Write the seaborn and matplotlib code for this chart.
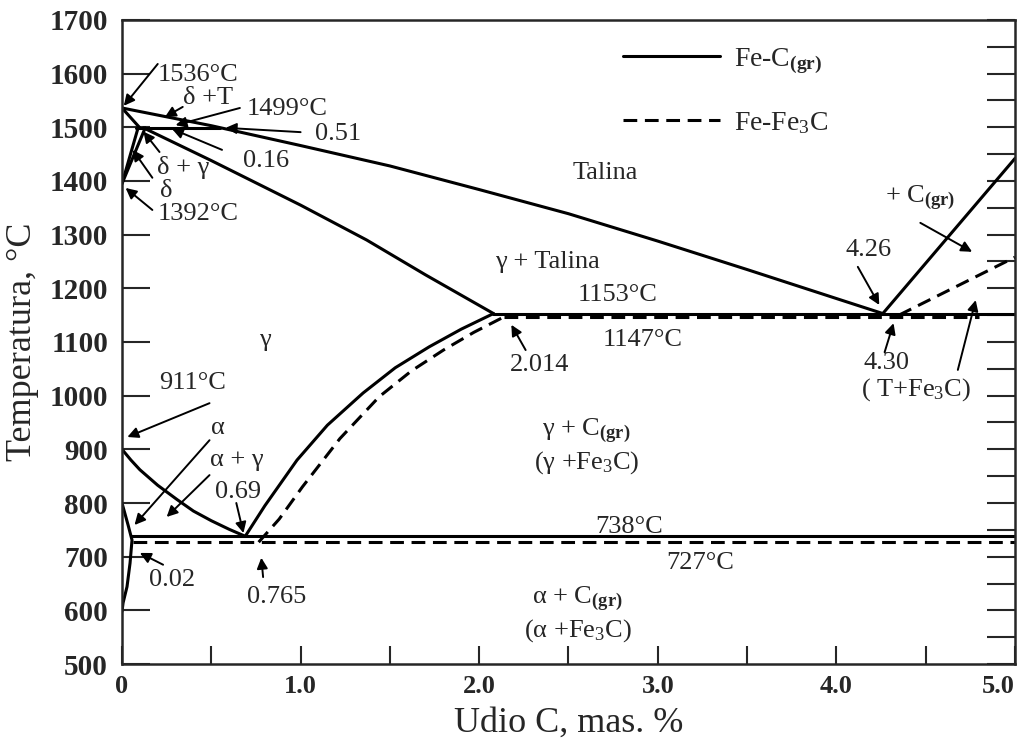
import numpy as np
import pandas as pd
import matplotlib
matplotlib.use('Agg')
import matplotlib.pyplot as plt
from matplotlib.ticker import MultipleLocator
import seaborn as sns

# phase boundaries: wt% C  vs  temperature (degC)
# stable system Fe-C(gr), solid lines
liq_x = [0, 0.5, 1.0, 1.5, 2.0, 2.5, 3.0, 3.5, 4.0, 4.26]
liq_t = [1536, 1503, 1466, 1428, 1384, 1339, 1288, 1235, 1181, 1153]
dsol_x = [0, 0.10]
dsol_t = [1536, 1499]
perit_x = [0.08, 0.55]
perit_t = [1499, 1499]
dgam1_x = [0, 0.09]
dgam1_t = [1395, 1499]
dgam2_x = [0, 0.13]
dgam2_t = [1395, 1499]
gsol_x = [0.12, 0.5, 1.0, 1.37, 1.7, 2.08]
gsol_t = [1499, 1438, 1355, 1290, 1225, 1153]
eut_gr_x = [2.08, 5.0]
eut_gr_t = [1153, 1153]
liq_gr_x = [4.26, 5.0]
liq_gr_t = [1153, 1442]
a3_x = [0, 0.05, 0.1, 0.2, 0.31, 0.4, 0.5, 0.6, 0.69]
a3_t = [900, 880, 862, 833, 806, 785, 767, 751, 738]
alpha_x = [0, 0.034, 0.056, 0.045, 0.028, 0.006, 0]
alpha_t = [800, 759, 731, 688, 644, 614, 598]
acm_gr_x = [0.69, 0.8, 0.98, 1.15, 1.35, 1.53, 1.72, 1.9, 2.08]
acm_gr_t = [738, 795, 880, 945, 1005, 1052, 1091, 1124, 1153]
eutd_gr_x = [0.05, 5.0]
eutd_gr_t = [738, 738]
# metastable system Fe-Fe3C, dashed lines
eut_cem_x = [2.14, 4.8]
eut_cem_t = [1147, 1147]
liq_cem_x = [4.35, 5.0]
liq_cem_t = [1150, 1258]
acm_cem_x = [0.765, 0.88, 1.01, 1.22, 1.44, 1.62, 1.80, 1.97, 2.14]
acm_cem_t = [727, 770, 830, 920, 998, 1046, 1085, 1118, 1147]
eutd_cem_x = [0.06, 5.0]
eutd_cem_t = [727, 727]

lab_gr = 'Fe-C$_{\\mathbf{(gr)}}$'
lab_cem = 'Fe-Fe$_3$C'

curves = [
    ('liq', lab_gr, liq_x, liq_t), ('dsol', lab_gr, dsol_x, dsol_t),
    ('perit', lab_gr, perit_x, perit_t), ('dgam1', lab_gr, dgam1_x, dgam1_t),
    ('dgam2', lab_gr, dgam2_x, dgam2_t), ('gsol', lab_gr, gsol_x, gsol_t),
    ('eut_gr', lab_gr, eut_gr_x, eut_gr_t), ('liq_gr', lab_gr, liq_gr_x, liq_gr_t),
    ('a3', lab_gr, a3_x, a3_t), ('alpha', lab_gr, alpha_x, alpha_t),
    ('acm_gr', lab_gr, acm_gr_x, acm_gr_t), ('eutd_gr', lab_gr, eutd_gr_x, eutd_gr_t),
    ('eut_cem', lab_cem, eut_cem_x, eut_cem_t), ('liq_cem', lab_cem, liq_cem_x, liq_cem_t),
    ('acm_cem', lab_cem, acm_cem_x, acm_cem_t), ('eutd_cem', lab_cem, eutd_cem_x, eutd_cem_t),
]
rows = []
for name, system, xs, ts in curves:
    for x, t in zip(xs, ts):
        rows.append({'curve': name, 'system': system, 'C': x, 'T': t})
df = pd.DataFrame(rows)

sns.set_style('ticks')
plt.rcParams['font.family'] = ['Liberation Serif', 'DejaVu Serif']
plt.rcParams['mathtext.fontset'] = 'custom'
plt.rcParams['mathtext.rm'] = 'Liberation Serif'
plt.rcParams['mathtext.it'] = 'Liberation Serif:italic'
plt.rcParams['mathtext.bf'] = 'Liberation Serif:bold'

fig = plt.figure(figsize=(10.27, 7.45), dpi=100)
ax = fig.add_axes([0.1188, 0.1087, 0.8695, 0.8645])

sns.lineplot(data=df, x='C', y='T', units='curve', style='system', estimator=None,
             sort=False, color='k', lw=2.2, ax=ax,
             style_order=[lab_gr, lab_cem],
             dashes={lab_gr: '', lab_cem: (4.5, 2.5)})

ax.set_xlim(0, 5)
ax.set_ylim(500, 1700)

# legend top right, no frame
h, l = ax.get_legend_handles_labels()
ax.legend(h, l, loc='upper left', bbox_to_anchor=(0.561, 0.96), frameon=False,
          fontsize=20, handlelength=3.5, handletextpad=0.5, labelspacing=1.25,
          borderpad=0, borderaxespad=0)

# text labels (layout only)
fs = 19
labels = [
    ('1536°C', 0.2, 1598, 'left'), ('δ +T', 0.34, 1555, 'left'),
    ('1499°C', 0.70, 1534, 'left'), ('0.51', 1.08, 1487, 'left'),
    ('0.16', 0.68, 1437, 'left'), ('δ + γ', 0.195, 1425, 'left'),
    ('δ', 0.21, 1382, 'left'), ('1392°C', 0.2, 1338, 'left'),
    ('Talina', 2.52, 1415, 'left'), ('+ C$_{\\mathbf{(gr)}}$', 4.27, 1368, 'left'),
    ('4.26', 4.05, 1271, 'left'), ('γ + Talina', 2.09, 1249, 'left'),
    ('1153°C', 2.55, 1188, 'left'), ('1147°C', 2.69, 1104, 'left'),
    ('2.014', 2.17, 1057, 'left'), ('γ', 0.80, 1104, 'center'),
    ('4.30', 4.15, 1061, 'left'), ('( T+Fe$_3$C)', 4.14, 1011, 'left'),
    ('911°C', 0.21, 1024, 'left'), ('α', 0.50, 940, 'left'),
    ('α + γ', 0.49, 880, 'left'), ('0.69', 0.52, 821, 'left'),
    ('0.02', 0.15, 657, 'left'), ('0.765', 0.70, 625, 'left'),
    ('γ + C$_{\\mathbf{(gr)}}$', 2.6, 934, 'center'), ('(γ +Fe$_3$C)', 2.6, 875, 'center'),
    ('738°C', 2.65, 755, 'left'), ('727°C', 3.05, 688, 'left'),
    ('α + C$_{\\mathbf{(gr)}}$', 2.55, 622, 'center'), ('(α +Fe$_3$C)', 2.55, 563, 'center'),
]
for txt, x, y, ha in labels:
    ax.text(x, y, txt, fontsize=fs, ha=ha, va='center')

# arrows: (tail, head)
arrows = [
    ((0.20, 1618), (0.01, 1540)), ((0.34, 1538), (0.24, 1519)),
    ((0.66, 1536), (0.30, 1504)), ((1.00, 1491), (0.58, 1499)),
    ((0.56, 1458), (0.28, 1497)), ((0.21, 1454), (0.12, 1492)),
    ((0.17, 1406), (0.06, 1458)), ((0.17, 1346), (0.02, 1387)),
    ((0.49, 986), (0.03, 923)), ((0.49, 917), (0.07, 759)),
    ((0.49, 852), (0.25, 774)), ((0.64, 800), (0.68, 744)),
    ((0.23, 685), (0.10, 707)), ((0.79, 662), (0.78, 698)),
    ((2.26, 1085), (2.18, 1132)), ((4.12, 1240), (4.24, 1169)),
    ((4.47, 1322), (4.76, 1268)), ((4.27, 1081), (4.32, 1135)),
    ((4.68, 1048), (4.78, 1178)),
]
for tail, head in arrows:
    ax.annotate('', xy=head, xytext=tail,
                arrowprops=dict(arrowstyle='-|>', color='k', lw=1.4,
                                mutation_scale=16, shrinkA=0, shrinkB=0))

# axes, ticks
ax.set_xticks(np.arange(0, 5.01, 0.5))
ax.set_xticklabels(['0', '', '1.0', '', '2.0', '', '3.0', '', '4.0', '', '5.0'])
ax.set_yticks(np.arange(500, 1701, 100))
ax.yaxis.set_minor_locator(MultipleLocator(50))
ax.tick_params(axis='x', direction='in', length=13, width=1.5, top=False,
               labelsize=19, pad=8)
ax.tick_params(axis='y', which='major', direction='in', length=20, width=1.5,
               left=True, right=True, labelsize=21, pad=10)
ax.tick_params(axis='y', which='minor', direction='in', length=20, width=1.5,
               left=False, right=True)
for lbl in ax.get_xticklabels() + ax.get_yticklabels():
    lbl.set_fontweight('bold')
ax.get_xticklabels()[-1].set_horizontalalignment('right')
for sp in ax.spines.values():
    sp.set_visible(True)
    sp.set_linewidth(1.8)

ax.set_xlabel('Udio C, mas. %', fontsize=26, labelpad=6)
ax.set_ylabel('Temperatura, °C', fontsize=26, labelpad=8)

fig.savefig('out.png', dpi=100)
